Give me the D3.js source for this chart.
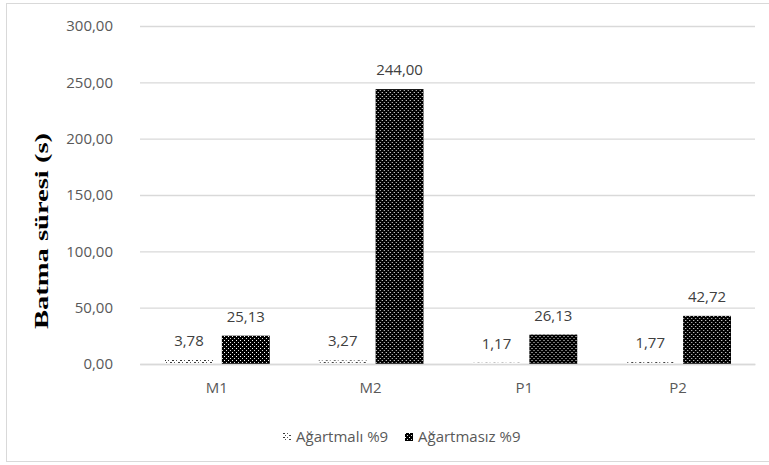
<!DOCTYPE html>
<html>
<head>
<meta charset="utf-8">
<script src="https://cdn.jsdelivr.net/npm/d3@7"></script>
<style>
  html, body { margin: 0; padding: 0; background: #fff; }
  svg { display: block; }
</style>
</head>
<body>
<svg id="chart" width="769" height="465"></svg>
<script>
// Sinking time per sample, for the two bleaching treatments
const categories = ["M1", "M2", "P1", "P2"];
const seriesNames = ["Ağartmalı %9", "Ağartmasız %9"];
const bleached = [3.78, 3.27, 1.17, 1.77];
const unbleached = [25.13, 244.00, 26.13, 42.72];
const yTicks = [0, 50, 100, 150, 200, 250, 300];

const series = [bleached, unbleached];
const fmt = v => v.toFixed(2).replace(".", ",");

const svg = d3.select("#chart");
const font = "'Open Sans', 'Noto Sans', sans-serif";
const textColor = "#595959";
const lineColor = "#d9d9d9";

// Fill patterns for the two series
const defs = svg.append("defs");
const pLight = defs.append("pattern")
  .attr("id", "pat-light").attr("patternUnits", "userSpaceOnUse")
  .attr("width", 8).attr("height", 4);
pLight.append("rect").attr("width", 8).attr("height", 4).attr("fill", "#fff");
pLight.append("rect").attr("x", 0).attr("y", 0).attr("width", 2).attr("height", 1).attr("fill", "#333");
pLight.append("rect").attr("x", 4).attr("y", 0).attr("width", 1).attr("height", 1).attr("fill", "#555");
pLight.append("rect").attr("x", 2).attr("y", 2).attr("width", 1).attr("height", 1).attr("fill", "#555");
pLight.append("rect").attr("x", 6).attr("y", 2).attr("width", 2).attr("height", 1).attr("fill", "#444");

const pDark = defs.append("pattern")
  .attr("id", "pat-dark").attr("patternUnits", "userSpaceOnUse")
  .attr("width", 4).attr("height", 4);
pDark.append("rect").attr("width", 4).attr("height", 4).attr("fill", "#000");
pDark.append("rect").attr("x", 0).attr("y", 0).attr("width", 1).attr("height", 1).attr("fill", "#fff");
pDark.append("rect").attr("x", 2).attr("y", 2).attr("width", 1).attr("height", 1).attr("fill", "#e0e0e0");

const fills = ["url(#pat-light)", "url(#pat-dark)"];

// Chart frame
svg.append("rect")
  .attr("x", 6.5).attr("y", 3.5).attr("width", 780).attr("height", 458)
  .attr("fill", "#fff").attr("stroke", lineColor).attr("stroke-width", 1);

// Scales
const y = d3.scaleLinear().domain([0, 300]).range([364, 26]);
const x0 = d3.scaleBand().domain(categories).range([140, 755]).padding(0);
const x1 = d3.scaleBand().domain(d3.range(series.length))
  .range([25, x0.bandwidth() - 24]).paddingInner(0.158).paddingOuter(0);

// Gridlines and tick labels
const yAxis = d3.axisLeft(y).tickValues(yTicks).tickSize(-(755 - 140)).tickPadding(27).tickFormat(fmt);
const gy = svg.append("g").attr("transform", "translate(140,0)").call(yAxis);
gy.select(".domain").remove();
gy.selectAll(".tick line").attr("stroke", lineColor).attr("stroke-width", 1.3);
gy.selectAll(".tick text")
  .attr("fill", textColor).style("font-family", font).style("font-size", "15px");

// Bars
const groups = svg.append("g").selectAll("g")
  .data(categories).join("g")
  .attr("transform", d => `translate(${x0(d)},0)`);

groups.selectAll("rect")
  .data((c, i) => series.map((s, k) => ({ k, v: s[i] })))
  .join("rect")
  .attr("x", d => x1(d.k))
  .attr("width", x1.bandwidth())
  .attr("y", d => y(d.v))
  .attr("height", d => y(0) - y(d.v))
  .attr("fill", d => fills[d.k]);

// Value labels
groups.selectAll("text")
  .data((c, i) => series.map((s, k) => ({ k, v: s[i] })))
  .join("text")
  .attr("x", d => x1(d.k) + x1.bandwidth() / 2)
  .attr("y", d => y(d.v) - 14)
  .attr("text-anchor", "middle")
  .attr("fill", "#404040")
  .style("font-family", font).style("font-size", "15px")
  .text(d => fmt(d.v));

// Category axis
const xAxis = d3.axisBottom(x0).tickSize(0).tickPadding(18);
const gx = svg.append("g").attr("transform", `translate(0,${y(0)})`).call(xAxis);
gx.select(".domain").attr("stroke", lineColor).attr("stroke-width", 1.3);
gx.selectAll(".tick text")
  .attr("fill", textColor).style("font-family", font).style("font-size", "15px");

// Y axis title
svg.append("text")
  .attr("transform", "translate(48,231) rotate(-90)")
  .attr("text-anchor", "middle")
  .attr("fill", "#000")
  .style("font-family", "'Liberation Serif', 'Times New Roman', serif")
  .style("font-weight", "bold").style("font-size", "18px")
  .attr("textLength", 196).attr("lengthAdjust", "spacingAndGlyphs")
  .text("Batma süresi (s)");

// Legend
const legendItems = [
  { name: seriesNames[0], fill: fills[0], x: 283 },
  { name: seriesNames[1], fill: fills[1], x: 405 }
];
const lg = svg.append("g").selectAll("g").data(legendItems).join("g")
  .attr("transform", d => `translate(${d.x},437)`);
lg.append("rect").attr("x", 0).attr("y", -4).attr("width", 8).attr("height", 8)
  .attr("fill", d => d.fill);
lg.append("text").attr("x", 13).attr("y", 0).attr("dy", "0.35em")
  .attr("fill", textColor).style("font-family", font).style("font-size", "15px")
  .text(d => d.name);
</script>
</body>
</html>
